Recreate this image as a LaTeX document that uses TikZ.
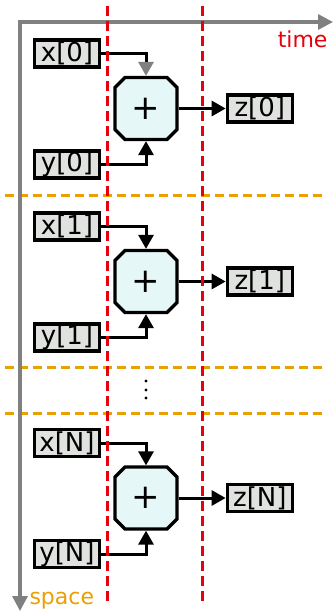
\documentclass[tikz,border=0pt]{standalone}
\usepackage{fontspec}
\setmainfont{DejaVu Sans}
\usetikzlibrary{arrows.meta,shapes.misc,positioning}
\definecolor{rojo}{RGB}{232,0,12}
\definecolor{naranja}{RGB}{234,160,0}
\definecolor{gris}{RGB}{128,128,128}
\definecolor{cajagris}{RGB}{224,226,224}
\definecolor{celeste}{RGB}{230,247,247}
\tikzset{
	dato/.style={draw, line width=3.3pt, fill=cajagris, minimum width=65pt, minimum height=27pt, inner sep=0pt, font=\fontsize{26}{26}\selectfont},
	suma/.style={chamfered rectangle, chamfered rectangle sep=5pt, draw, line width=3.3pt, fill=celeste, minimum width=62pt, minimum height=62pt, inner sep=0pt, font=\fontsize{34}{34}\selectfont},
	flecha/.style={line width=3pt, -{Triangle[length=14pt,width=15pt]}},
	eje/.style={gris, line width=3.3pt, {Triangle[length=15pt,width=15pt]}-{Triangle[length=15pt,width=15pt]}},
}
\begin{document}
\begin{tikzpicture}[x=1pt,y=-1pt]
	\fill[white] (0,0) rectangle (336,613);
	\useasboundingbox (0,0) rectangle (336,613);
	% separadores en el espacio
	\foreach \yy in {195,367,413}
		\draw[naranja, line width=3pt, dash pattern=on 9pt off 5pt] (5,\yy) -- (322,\yy);
	% ejes
	\coordinate (origen) at (20,22);
	\coordinate (tfin) at (333,22);
	\coordinate (sfin) at (20,611);
	\draw[eje] (tfin) -- (origen) -- (sfin);
	\node[anchor=base east, text=rojo, font=\fontsize{22}{22}\selectfont] (tiempo) at (331,47) {time};
	\node[anchor=base west, text=naranja, font=\fontsize{22}{22}\selectfont] (espacio) at (26,604) {space};
	% un sumador por cada indice
	\foreach \i/\yc/\pc in {0/108.5/gris, 1/281.5/black, N/498/black}{
		\node[suma] (s\i) at (146,\yc) {+};
		\node[dato] (x\i) at (67,\yc-55) {x[\i]};
		\node[dato] (y\i) at (67,\yc+56) {y[\i]};
		\node[dato, right=47pt of s\i] (z\i) {z[\i]};
		\draw[line width=3pt, -{Triangle[length=14pt,width=15pt,color=\pc]}] (x\i.east) -| (s\i.north);
		\draw[flecha] (y\i.east) -| (s\i.south);
		\draw[flecha] (s\i.east) -- (z\i.west);
	}
	\foreach \yy in {381,390,398}
		\fill (146,\yy) circle (1.6pt);
	% ciclos de reloj
	\draw[rojo, line width=3pt, dash pattern=on 10pt off 5pt] (107,6) -- (107,602);
	\draw[rojo, line width=3pt, dash pattern=on 10pt off 5pt] (202,6) -- (202,602);
\end{tikzpicture}
\end{document}
